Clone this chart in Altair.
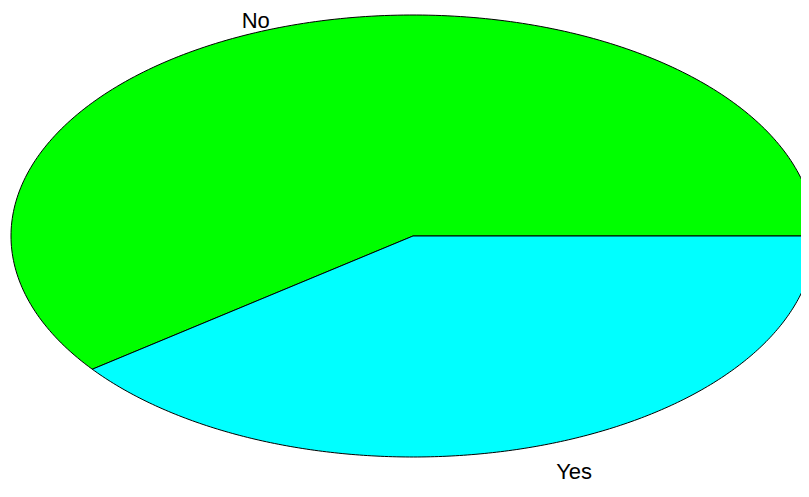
import math
import altair as alt
import pandas as pd

# Data
categories = ["No", "Yes"]
shares = [60.3, 39.7]
colors = ["#00ff00", "#00ffff"]

# Label placement factors (radial multipliers; text baseline position)
label_kx = [1.12, 1.12]
label_ky = [0.993, 1.160]

total = sum(shares)
rows = []
labels = []
start = 0.0
N = 240
for cat, v, kx, ky in zip(categories, shares, label_kx, label_ky):
    end = start + v / total * 2 * math.pi
    idx = 0
    rows.append({"slice": cat, "i": idx, "u": 0.0, "v": 0.0}); idx += 1
    for k in range(N + 1):
        a = start + (end - start) * k / N
        rows.append({"slice": cat, "i": idx, "u": math.cos(a), "v": math.sin(a)}); idx += 1
    rows.append({"slice": cat, "i": idx, "u": 0.0, "v": 0.0})
    mid = (start + end) / 2
    labels.append({"slice": cat, "u": kx * math.cos(mid), "v": ky * math.sin(mid),
                   "align": "right" if math.cos(mid) < 0 else "left"})
    start = end

poly = pd.DataFrame(rows)
lab = pd.DataFrame(labels)

W, H = 793, 476
xs = alt.Scale(domain=[-405 / 402, (W - 405) / 402], nice=False, zero=False)
ys = alt.Scale(domain=[(228 - H) / 221, 228 / 221], nice=False, zero=False)

slices = alt.Chart(poly).mark_line(stroke="black", strokeWidth=1).encode(
    x=alt.X("u:Q", scale=xs, axis=None),
    y=alt.Y("v:Q", scale=ys, axis=None),
    order="i:Q",
    detail="slice:N",
    fill=alt.Fill("slice:N", scale=alt.Scale(domain=categories, range=colors), legend=None),
)

text_left = alt.Chart(lab[lab["align"] == "right"]).mark_text(
    align="right", baseline="alphabetic", fontSize=22, font="Liberation Sans", color="black"
).encode(x=alt.X("u:Q", scale=xs, axis=None), y=alt.Y("v:Q", scale=ys, axis=None), text="slice:N")

text_right = alt.Chart(lab[lab["align"] == "left"]).mark_text(
    align="left", baseline="alphabetic", fontSize=22, font="Liberation Sans", color="black"
).encode(x=alt.X("u:Q", scale=xs, axis=None), y=alt.Y("v:Q", scale=ys, axis=None), text="slice:N")

chart = alt.layer(slices, text_left, text_right).properties(
    width=W, height=H, padding=0, autosize=alt.AutoSizeParams(type="none")
).configure_view(stroke=None)

chart.save("out.html", embed_options={"renderer": "svg", "actions": False})
